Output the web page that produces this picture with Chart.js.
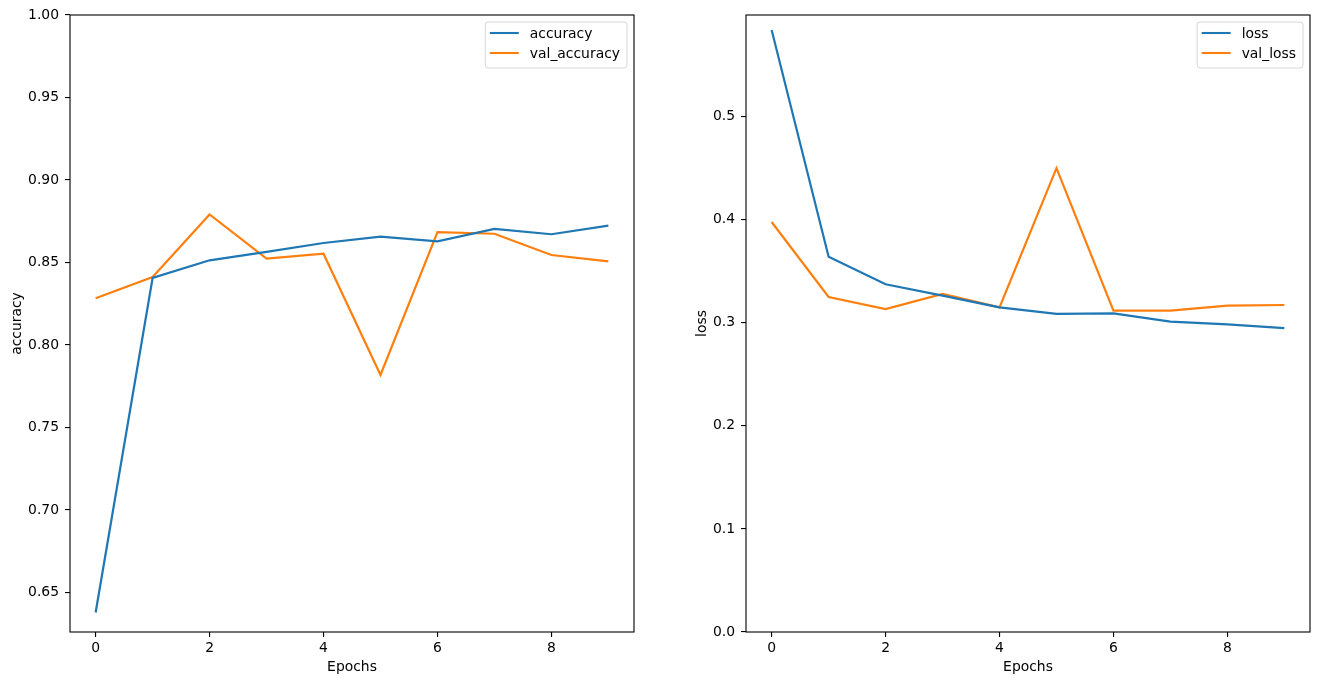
<!DOCTYPE html>
<html>
<head>
<meta charset="utf-8">
<script src="https://cdn.jsdelivr.net/npm/chart.js@4/dist/chart.umd.min.js"></script>
<style>
  html, body { margin: 0; padding: 0; background: #fff; }
  .panel { position: absolute; top: 0; width: 660px; height: 684px; }
  #left-panel { left: 0; }
  #right-panel { left: 660px; }
</style>
</head>
<body>
<div class="panel" id="left-panel"><canvas id="acc-chart"></canvas></div>
<div class="panel" id="right-panel"><canvas id="loss-chart"></canvas></div>
<script>
const epochs = [0, 1, 2, 3, 4, 5, 6, 7, 8, 9];
const accuracy = [0.6378, 0.8406, 0.8513, 0.8564, 0.8618, 0.8656, 0.8628, 0.8703, 0.8671, 0.8723];
const valAccuracy = [0.8283, 0.8412, 0.8791, 0.8523, 0.8553, 0.7818, 0.8684, 0.8674, 0.8545, 0.8507];
const loss = [0.584, 0.364, 0.3373, 0.3263, 0.3149, 0.3085, 0.309, 0.301, 0.2984, 0.2948];
const valLoss = [0.3977, 0.325, 0.3133, 0.328, 0.3149, 0.450, 0.3117, 0.3117, 0.3166, 0.3172];

const BLUE = '#1f77b4';
const ORANGE = '#ff7f0e';
const FONT = { family: 'DejaVu Sans', size: 13.9 };

Chart.defaults.color = '#000';
Chart.defaults.font.family = FONT.family;
Chart.defaults.font.size = FONT.size;

// matplotlib-style frame and legend box
const framePlugin = {
  id: 'frame',
  afterDraw(chart) {
    const { ctx, chartArea } = chart;
    ctx.save();
    ctx.strokeStyle = '#000';
    ctx.lineWidth = 1.1;
    ctx.strokeRect(chartArea.left, chartArea.top, chartArea.right - chartArea.left, chartArea.bottom - chartArea.top);

    ctx.font = `${FONT.size}px ${FONT.family}`;
    const sets = chart.data.datasets;
    const textWidth = Math.max(...sets.map((d) => ctx.measureText(d.label).width));
    const rowHeight = 20;
    const boxW = 4.5 + 29 + 11 + textWidth + 7;
    const boxH = 8 + rowHeight * sets.length + 6 - rowHeight + 12;
    const boxX = chartArea.right - 7 - boxW;
    const boxY = chartArea.top + 7;

    ctx.beginPath();
    ctx.roundRect(boxX, boxY, boxW, boxH, 3);
    ctx.fillStyle = 'rgba(255,255,255,0.8)';
    ctx.fill();
    ctx.strokeStyle = '#d6d6d6';
    ctx.lineWidth = 1;
    ctx.stroke();

    sets.forEach((d, i) => {
      const y = boxY + 11 + i * rowHeight;
      ctx.beginPath();
      ctx.moveTo(boxX + 4.5, y);
      ctx.lineTo(boxX + 33.5, y);
      ctx.strokeStyle = d.borderColor;
      ctx.lineWidth = 2.1;
      ctx.stroke();
      ctx.fillStyle = '#000';
      ctx.textBaseline = 'middle';
      ctx.textAlign = 'left';
      ctx.fillText(d.label, boxX + 44.5, y + 1);
    });
    ctx.restore();
  },
};

function makeChart(canvas, opts) {
  return new Chart(canvas, {
    type: 'line',
    data: {
      datasets: [
        {
          label: opts.names[0],
          data: epochs.map((e, i) => ({ x: e, y: opts.series[0][i] })),
          borderColor: BLUE,
          borderWidth: 2.2,
          pointRadius: 0,
          tension: 0,
        },
        {
          label: opts.names[1],
          data: epochs.map((e, i) => ({ x: e, y: opts.series[1][i] })),
          borderColor: ORANGE,
          borderWidth: 2.2,
          pointRadius: 0,
          tension: 0,
        },
      ],
    },
    options: {
      responsive: true,
      maintainAspectRatio: false,
      animation: false,
      layout: { padding: { top: 15, right: opts.padRight, left: 0, bottom: 0 } },
      plugins: {
        legend: { display: false },
        tooltip: { enabled: false },
      },
      scales: {
        x: {
          type: 'linear',
          min: -0.45,
          max: 9.45,
          afterFit: (scale) => { scale.height = 52; },
          border: { display: false },
          grid: { drawOnChartArea: false, drawTicks: true, tickLength: 5, color: '#000', lineWidth: 1.1 },
          ticks: { stepSize: 2, includeBounds: false, padding: 3, maxRotation: 0 },
          title: { display: true, text: 'Epochs', padding: { top: 0, bottom: 8.6 } },
        },
        y: {
          min: opts.yMin,
          max: opts.yMax,
          afterFit: (scale) => { scale.width = opts.axisWidth; },
          border: { display: false },
          grid: { drawOnChartArea: false, drawTicks: true, tickLength: 5, color: '#000', lineWidth: 1.1 },
          ticks: {
            stepSize: opts.step,
            includeBounds: false,
            padding: 6,
            callback: (v) => v.toFixed(opts.decimals),
          },
          title: { display: true, text: opts.yTitle, padding: { top: opts.titlePad, bottom: 0 } },
        },
      },
    },
    plugins: [framePlugin],
  });
}

makeChart(document.getElementById('acc-chart'), {
  names: ['accuracy', 'val_accuracy'],
  series: [accuracy, valAccuracy],
  yMin: 0.626,
  yMax: 1.0,
  step: 0.05,
  decimals: 2,
  yTitle: 'accuracy',
  axisWidth: 70,
  padRight: 26,
  titlePad: 9.5,
});

makeChart(document.getElementById('loss-chart'), {
  names: ['loss', 'val_loss'],
  series: [loss, valLoss],
  yMin: 0,
  yMax: 0.5985,
  step: 0.1,
  decimals: 1,
  yTitle: 'loss',
  axisWidth: 86,
  padRight: 10,
  titlePad: 34,
});
</script>
</body>
</html>
